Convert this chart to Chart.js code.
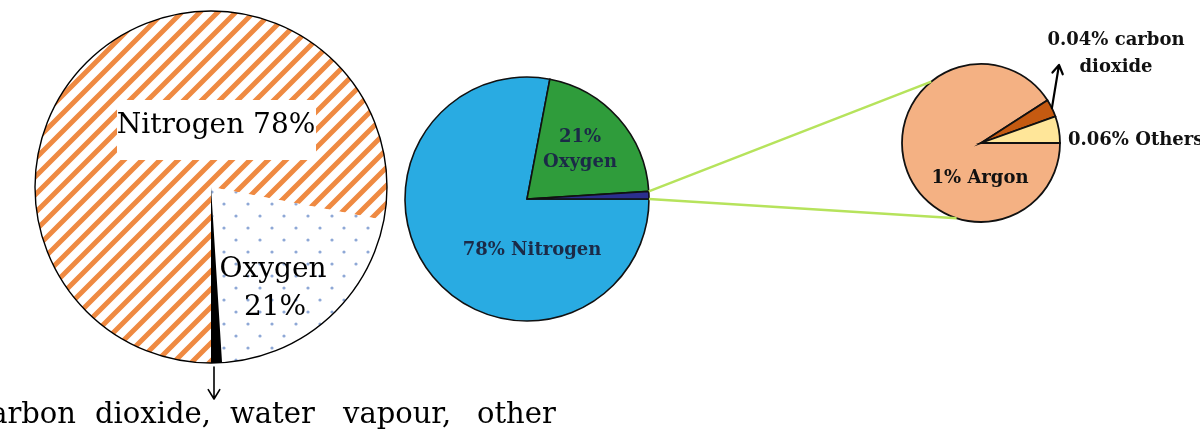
<!DOCTYPE html>
<html>
<head>
<meta charset="utf-8">
<script src="https://cdn.jsdelivr.net/npm/chart.js@4.4.1/dist/chart.umd.min.js"></script>
<style>
  html, body { margin: 0; background: #fff; }
  #wrap { position: relative; width: 1200px; height: 429px; overflow: hidden; }
  #wrap canvas { position: absolute; }
</style>
</head>
<body>
<div id="wrap">
  <canvas id="airPie" width="370" height="362" style="left:26px;top:6px"></canvas>
  <canvas id="gasPie" width="254" height="254" style="left:400px;top:72px"></canvas>
  <canvas id="tracePie" width="170" height="170" style="left:896px;top:58px"></canvas>
  <canvas id="overlay" width="1200" height="429" style="left:0;top:0;pointer-events:none"></canvas>
</div>
<script>
// composition of air, three views of the same thing
const airLabels = ['Nitrogen', 'Oxygen', 'Carbon dioxide, water vapour, other'];
const airValues = [78, 21, 1];

const gasLabels = ['Nitrogen', 'Oxygen', 'Other gases'];
const gasValues = [78, 21, 1];

const traceLabels = ['Argon', 'Carbon dioxide', 'Others'];
const traceValues = [1, 0.04, 0.06];

const SERIF = '"DejaVu Serif", serif';

// hatch + dot fills for the first pie
function stripes() {
    const s = 18;
    const c = document.createElement('canvas');
    c.width = c.height = s;
    const g = c.getContext('2d');
    g.fillStyle = '#fff';
    g.fillRect(0, 0, s, s);
    g.strokeStyle = '#ef8a42';
    g.lineWidth = 5;
    g.beginPath();
    // lines x + y = k*s, run well past the tile so no caps show
    for (let k = -1; k <= 3; k++) {
        g.moveTo(k * s - 2 * s, 2 * s);
        g.lineTo(k * s + 2 * s, -2 * s);
    }
    g.stroke();
    return g.createPattern(c, 'repeat');
}

function dots() {
    const c = document.createElement('canvas');
    c.width = c.height = 24;
    const g = c.getContext('2d');
    g.fillStyle = '#fff';
    g.fillRect(0, 0, 24, 24);
    g.fillStyle = '#8ea8d6';
    [[6, 6], [18, 18]].forEach(([x, y]) => {
        g.beginPath();
        g.arc(x, y, 1.6, 0, Math.PI * 2);
        g.fill();
    });
    return g.createPattern(c, 'repeat');
}

const baseOpts = {
    responsive: false,
    animation: false,
    events: [],
    layout: { padding: 0 },
    plugins: { legend: { display: false }, tooltip: { enabled: false } }
};

const airChart = new Chart(document.getElementById('airPie'), {
    type: 'pie',
    data: {
        labels: airLabels,
        datasets: [{
            data: airValues,
            backgroundColor: [stripes(), dots(), '#000'],
            borderWidth: 0
        }]
    },
    options: { ...baseOpts, rotation: 180, radius: 176 }
});

const gasChart = new Chart(document.getElementById('gasPie'), {
    type: 'pie',
    data: {
        labels: gasLabels,
        datasets: [{
            data: gasValues,
            backgroundColor: ['#29abe2', '#2f9c3b', '#2b2f8e'],
            borderColor: '#111',
            borderWidth: 1.6,
            borderJoinStyle: 'miter'
        }]
    },
    options: { ...baseOpts, rotation: 90, radius: 122 }
});

const traceChart = new Chart(document.getElementById('tracePie'), {
    type: 'pie',
    data: {
        labels: traceLabels,
        datasets: [{
            data: traceValues,
            backgroundColor: ['#f4b183', '#c55a11', '#ffe699'],
            borderColor: '#111',
            borderWidth: 1.8,
            borderJoinStyle: 'miter'
        }]
    },
    options: { ...baseOpts, rotation: 90, radius: 79 }
});

// arc geometry in page coords
function arc(chart, i) {
    const a = chart.getDatasetMeta(0).data[i];
    const el = chart.canvas;
    return {
        x: a.x + el.offsetLeft,
        y: a.y + el.offsetTop,
        r: a.outerRadius,
        start: a.startAngle,
        end: a.endAngle
    };
}
const onArc = (a, ang) => [a.x + a.r * Math.cos(ang), a.y + a.r * Math.sin(ang)];

const ctx = document.getElementById('overlay').getContext('2d');

function text(str, x, y, font, color, align) {
    ctx.font = font;
    ctx.fillStyle = color;
    ctx.textAlign = align || 'center';
    ctx.textBaseline = 'alphabetic';
    ctx.fillText(str, x, y);
}

function arrow(x1, y1, x2, y2, head, width) {
    const ang = Math.atan2(y2 - y1, x2 - x1);
    ctx.strokeStyle = '#000';
    ctx.lineWidth = width;
    ctx.lineCap = 'round';
    ctx.lineJoin = 'round';
    ctx.beginPath();
    ctx.moveTo(x1, y1);
    ctx.lineTo(x2, y2);
    ctx.moveTo(x2 - head * Math.cos(ang - 0.55), y2 - head * Math.sin(ang - 0.55));
    ctx.lineTo(x2, y2);
    ctx.lineTo(x2 - head * Math.cos(ang + 0.55), y2 - head * Math.sin(ang + 0.55));
    ctx.stroke();
}

// --- pie 1: outline, boxed label, bottom note
const p1 = arc(airChart, 0);
ctx.strokeStyle = '#000';
ctx.lineWidth = 1.4;
ctx.beginPath();
ctx.arc(p1.x, p1.y, p1.r, 0, Math.PI * 2);
ctx.stroke();

ctx.fillStyle = '#fff';
ctx.fillRect(117, 100, 199, 60);
text(airLabels[0] + ' ' + airValues[0] + '%', 216, 133, '28px ' + SERIF, '#000');
text(airLabels[1], 273, 277, '28px ' + SERIF, '#000');
text(airValues[1] + '%', 275, 315, '28px ' + SERIF, '#000');

const p1o = arc(airChart, 2);
arrow(p1o.x + 3, 367, p1o.x + 3, 399, 11, 1.6);

const noteWords = airLabels[2].split(' ');
const noteX = [76, 95, 230, 343, 477];
ctx.font = '29px ' + SERIF;
ctx.fillStyle = '#000';
noteWords.forEach((w, i) => {
    ctx.textAlign = i === 0 ? 'right' : 'left';
    ctx.fillText(w, noteX[i], 423);
});

// --- pie 2 labels + connector to pie 3
const navy = '#1b2a47';
text(gasValues[1] + '%', 580, 142, 'bold 18px ' + SERIF, navy);
text(gasLabels[1], 580, 167, 'bold 18px ' + SERIF, navy);
text(gasValues[0] + '% ' + gasLabels[0], 532, 255, 'bold 18px ' + SERIF, navy);

const p2o = arc(gasChart, 2);
const p3 = arc(traceChart, 0);
const [ax, ay] = onArc(p2o, p2o.start);
const [bx, by] = onArc(p2o, p2o.end);
const [cx, cy] = onArc(p3, -129 * Math.PI / 180);
const [dx, dy] = onArc(p3, 108 * Math.PI / 180);
ctx.strokeStyle = '#b6e35c';
ctx.lineWidth = 2.5;
ctx.lineCap = 'butt';
ctx.beginPath();
ctx.moveTo(ax, ay); ctx.lineTo(cx, cy);
ctx.moveTo(bx, by); ctx.lineTo(dx, dy);
ctx.stroke();

// --- pie 3 labels
const ink = '#111';
text(traceValues[0] + '% ' + traceLabels[0], 980, 183, 'bold 18px ' + SERIF, ink);
text(traceValues[1] + '% carbon', 1116, 45, 'bold 18px ' + SERIF, ink);
text('dioxide', 1116, 72, 'bold 18px ' + SERIF, ink);
text(traceValues[2] + '% ' + traceLabels[2], 1068, 145, 'bold 18px ' + SERIF, ink, 'left');

const co2 = arc(traceChart, 1);
const [ex, ey] = onArc(co2, (co2.start + co2.end) / 2);
arrow(ex, ey, 1059, 65, 10, 2.2);
</script>
</body>
</html>
